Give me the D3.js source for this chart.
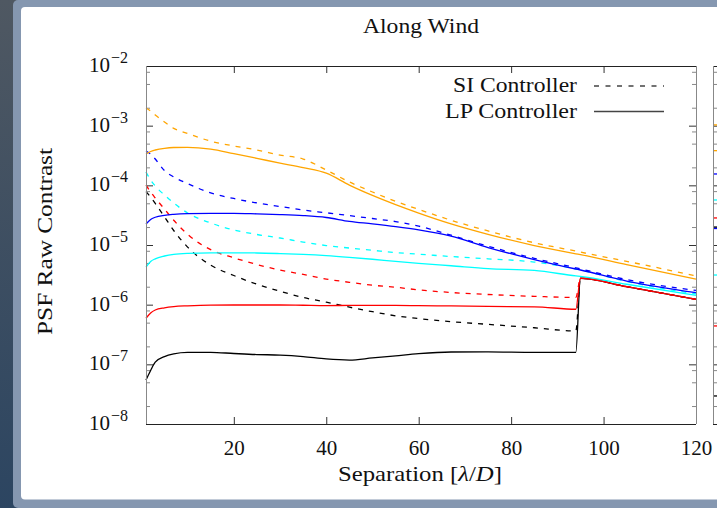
<!DOCTYPE html>
<html>
<head>
<meta charset="utf-8">
<script src="https://cdn.jsdelivr.net/npm/d3@7"></script>
<style>
html, body { margin: 0; padding: 0; background: #4b545e; }
svg { display: block; }
text { font-family: "Liberation Serif", "Times New Roman", serif; fill: #111; }
</style>
</head>
<body>
<div id="chart"></div>
<script>
// separation [lambda/D] where the curves were sampled
const separation = [1, 2, 3, 5, 7, 10, 15, 20, 25, 30, 35, 40, 45, 50, 55, 60, 67, 75, 85, 94, 95, 105, 120];

// SI controller (dashed)
const orangeSI = [1.98e-3, 1.76e-3, 1.51e-3, 1.15e-3, 9.0e-4, 7.4e-4, 5.5e-4, 4.56e-4, 3.91e-4, 3.22e-4, 2.76e-4, 1.81e-4, 1.14e-4, 7.73e-5, 5.4e-5, 3.95e-5, 2.6e-5, 1.72e-5, 1.09e-5, 7.9e-6, 7.6e-6, 5.33e-6, 3.03e-6];
const blueSI   = [3.76e-4, 3.35e-4, 2.76e-4, 1.77e-4, 1.38e-4, 1.07e-4, 7.45e-5, 6.02e-5, 5.06e-5, 4.42e-5, 3.86e-5, 3.47e-5, 3.11e-5, 2.78e-5, 2.47e-5, 2.07e-5, 1.46e-5, 9.55e-6, 5.99e-6, 4.15e-6, 3.98e-6, 2.63e-6, 1.73e-6];
const cyanSI   = [1.67e-4, 1.23e-4, 9.75e-5, 6.89e-5, 5.06e-5, 3.44e-5, 2.34e-5, 1.79e-5, 1.5e-5, 1.31e-5, 1.12e-5, 9.8e-6, 8.9e-6, 8.15e-6, 7.46e-6, 7.02e-6, 6.41e-6, 5.87e-6, 5.18e-6, 3.96e-6, 3.81e-6, 2.45e-6, 1.51e-6];
const redSI    = [1.01e-4, 7.73e-5, 6.14e-5, 4.0e-5, 2.6e-5, 1.51e-5, 8.34e-6, 6.11e-6, 4.71e-6, 3.81e-6, 3.21e-6, 2.69e-6, 2.37e-6, 2.12e-6, 1.96e-6, 1.77e-6, 1.6e-6, 1.48e-6, 1.38e-6, 1.32e-6, 2.77e-6, 2.0e-6, 1.23e-6];
const blackSI  = [7.83e-5, 6.35e-5, 4.97e-5, 2.97e-5, 1.75e-5, 9.23e-6, 4.6e-6, 3.08e-6, 2.2e-6, 1.68e-6, 1.32e-6, 1.1e-6, 9.08e-7, 7.62e-7, 6.51e-7, 5.85e-7, 5.19e-7, 4.68e-7, 4.1e-7, 3.62e-7, 2.77e-6, 2.0e-6, 1.23e-6];

// LP controller (solid)
const orangeLP = [3.35e-4, 3.69e-4, 3.91e-4, 4.18e-4, 4.31e-4, 4.34e-4, 4.05e-4, 3.39e-4, 2.83e-4, 2.36e-4, 1.98e-4, 1.6e-4, 1.01e-4, 6.78e-5, 4.75e-5, 3.43e-5, 2.26e-5, 1.51e-5, 9.8e-6, 7.13e-6, 6.89e-6, 4.7e-6, 2.69e-6];
const blueLP   = [2.25e-5, 2.68e-5, 2.92e-5, 3.15e-5, 3.27e-5, 3.36e-5, 3.4e-5, 3.4e-5, 3.33e-5, 3.24e-5, 3.11e-5, 2.89e-5, 2.49e-5, 2.26e-5, 2.03e-5, 1.79e-5, 1.41e-5, 9.08e-6, 5.71e-6, 3.96e-6, 3.81e-6, 2.49e-6, 1.59e-6];
const cyanLP   = [4.27e-6, 5.3e-6, 5.87e-6, 6.54e-6, 6.98e-6, 7.26e-6, 7.4e-6, 7.4e-6, 7.35e-6, 7.18e-6, 6.96e-6, 6.64e-6, 6.22e-6, 5.77e-6, 5.3e-6, 4.92e-6, 4.49e-6, 4.03e-6, 3.75e-6, 3.03e-6, 2.97e-6, 2.2e-6, 1.43e-6];
const redLP    = [5.92e-7, 7.26e-7, 8.15e-7, 8.87e-7, 9.29e-7, 9.57e-7, 9.84e-7, 9.88e-7, 9.88e-7, 9.88e-7, 9.77e-7, 9.66e-7, 9.7e-7, 9.72e-7, 9.7e-7, 9.62e-7, 9.51e-7, 9.33e-7, 9.21e-7, 8.38e-7, 2.77e-6, 2.0e-6, 1.23e-6];
const blackLP  = [5.47e-8, 7.9e-8, 1.09e-7, 1.35e-7, 1.5e-7, 1.59e-7, 1.59e-7, 1.52e-7, 1.46e-7, 1.43e-7, 1.35e-7, 1.23e-7, 1.18e-7, 1.28e-7, 1.39e-7, 1.51e-7, 1.61e-7, 1.62e-7, 1.59e-7, 1.59e-7, 2.77e-6, 2.0e-6, 1.23e-6];

// first values of the neighbouring (cut off) panel
const nextPanelValues = [1.03e-3, 3.81e-4, 1.55e-4, 5.68e-5, 2.84e-5, 2.0e-5, 1.89e-5, 3.14e-6, 4.4e-7, 2.95e-8];
const nextPanelColors = ["orange", "orange", "blue", "cyan", "red", "black", "blue", "cyan", "red", "black"];

const xTicks = [20, 40, 60, 80, 100, 120];
const yDecades = [1e-8, 1e-7, 1e-6, 1e-5, 1e-4, 1e-3, 1e-2];
const yExponents = ["−8", "−7", "−6", "−5", "−4", "−3", "−2"];
const minorMult = [2, 5, 8];

const W = 717, H = 508;
var margin = {top: 66, left: 146},
    width = 550,
    height = 358;

var svg = d3.select("#chart").append("svg")
    .attr("width", W)
    .attr("height", H);

// window background
var grad = svg.append("defs").append("linearGradient")
    .attr("id", "side").attr("x1", 0).attr("y1", 0).attr("x2", 0).attr("y2", 1);
grad.append("stop").attr("offset", "0%").attr("stop-color", "#4f5862");
grad.append("stop").attr("offset", "100%").attr("stop-color", "#2c4561");
svg.append("rect").attr("width", W).attr("height", H).attr("fill", "url(#side)");
svg.append("rect").attr("x", 13).attr("y", 0).attr("width", W).attr("height", H)
    .attr("rx", 5).attr("fill", "#8597b0");
svg.append("rect").attr("x", 21).attr("y", 7).attr("width", W).attr("height", 492.5)
    .attr("rx", 4).attr("fill", "#ffffff");

var g = svg.append("g")
    .attr("transform", "translate(" + margin.left + "," + margin.top + ")");

var x = d3.scaleLinear().domain([1, 120]).range([0, width]);
var y = d3.scaleLog().domain([1e-8, 1e-2]).range([height, 0]);

var minorVals = [];
yDecades.slice(0, -1).forEach(function(d) {
    minorMult.forEach(function(m) { minorVals.push(d * m); });
});

function styleAxis(sel, col) {
    sel.select(".domain").remove();
    sel.selectAll(".tick line").attr("stroke", col);
}

// y ticks, left and right, pointing inwards
g.append("g").call(d3.axisLeft(y).tickValues(yDecades).tickSize(-7).tickFormat(""))
    .call(styleAxis, "#333");
g.append("g").call(d3.axisLeft(y).tickValues(minorVals).tickSize(-4).tickFormat(""))
    .call(styleAxis, "#888");
g.append("g").attr("transform", "translate(" + width + ",0)")
    .call(d3.axisRight(y).tickValues(yDecades).tickSize(-7).tickFormat(""))
    .call(styleAxis, "#333");
g.append("g").attr("transform", "translate(" + width + ",0)")
    .call(d3.axisRight(y).tickValues(minorVals).tickSize(-4).tickFormat(""))
    .call(styleAxis, "#888");

// x ticks, bottom with labels, top mirrored
var xAxis = g.append("g").attr("transform", "translate(0," + height + ")")
    .call(d3.axisBottom(x).tickValues(xTicks).tickSizeInner(-7).tickSizeOuter(0).tickPadding(16));
xAxis.call(styleAxis, "#333");
xAxis.selectAll(".tick text")
    .attr("font-family", "Liberation Serif")
    .attr("font-size", 21)
    .attr("fill", "#111");
g.append("g")
    .call(d3.axisTop(x).tickValues(xTicks.slice(0, -1)).tickSize(-7).tickFormat(""))
    .call(styleAxis, "#333");

// y tick labels 10^n
var yLab = g.append("g").selectAll("text")
    .data(yDecades)
    .join("text")
    .attr("x", -18)
    .attr("y", function(d) { return y(d) + 6; })
    .attr("text-anchor", "end")
    .attr("font-size", 21);
yLab.append("tspan").text("10");
yLab.append("tspan")
    .attr("dx", 1)
    .attr("dy", -9)
    .attr("font-size", 16)
    .text(function(d, i) { return yExponents[i]; });

// curves
var line = d3.line()
    .x(function(d) { return x(d[0]); })
    .y(function(d) { return y(d[1]); })
    .curve(d3.curveMonotoneX);

var series = [
    [blackSI, "#000000", true], [blackLP, "#000000", false],
    [redSI, "#ff0000", true], [redLP, "#ff0000", false],
    [cyanSI, "#00ffff", true], [cyanLP, "#00ffff", false],
    [blueSI, "#0000ff", true], [blueLP, "#0000ff", false],
    [orangeSI, "#ffa500", true], [orangeLP, "#ffa500", false]
];

series.forEach(function(s) {
    g.append("path")
        .datum(d3.zip(separation, s[0]))
        .attr("fill", "none")
        .attr("stroke", s[1])
        .attr("stroke-width", 1.3)
        .attr("stroke-dasharray", s[2] ? "5,6" : null)
        .attr("d", line);
});

// frame
g.append("line").attr("x1", 0).attr("x2", width).attr("y1", 0.5).attr("y2", 0.5)
    .attr("stroke", "#222").attr("stroke-width", 1);
g.append("line").attr("x1", 0).attr("x2", width).attr("y1", height + 0.5).attr("y2", height + 0.5)
    .attr("stroke", "#222").attr("stroke-width", 1);
g.append("line").attr("x1", 0.5).attr("x2", 0.5).attr("y1", 0).attr("y2", height)
    .attr("stroke", "#888").attr("stroke-width", 1);
g.append("line").attr("x1", width + 0.5).attr("x2", width + 0.5).attr("y1", 0).attr("y2", height)
    .attr("stroke", "#888").attr("stroke-width", 1);

// legend
var legend = svg.append("g");
legend.append("text").attr("x", 577).attr("y", 92).attr("text-anchor", "end")
    .attr("font-size", 22).attr("textLength", 124).attr("lengthAdjust", "spacingAndGlyphs")
    .text("SI Controller");
legend.append("text").attr("x", 577).attr("y", 118).attr("text-anchor", "end")
    .attr("font-size", 22).attr("textLength", 132).attr("lengthAdjust", "spacingAndGlyphs")
    .text("LP Controller");
legend.append("line").attr("x1", 594).attr("x2", 664).attr("y1", 86).attr("y2", 86)
    .attr("stroke", "#444").attr("stroke-width", 1.3).attr("stroke-dasharray", "5,6.5");
legend.append("line").attr("x1", 594).attr("x2", 664).attr("y1", 111.5).attr("y2", 111.5)
    .attr("stroke", "#444").attr("stroke-width", 1.3);

// titles
svg.append("text").attr("x", 421).attr("y", 33).attr("text-anchor", "middle")
    .attr("font-size", 22).attr("textLength", 116).attr("lengthAdjust", "spacingAndGlyphs")
    .text("Along Wind");

var xl = svg.append("text").attr("x", 420).attr("y", 481).attr("text-anchor", "middle")
    .attr("font-size", 22).attr("textLength", 164).attr("lengthAdjust", "spacingAndGlyphs");
xl.append("tspan").text("Separation [");
xl.append("tspan").attr("font-style", "italic").text("λ");
xl.append("tspan").text("/");
xl.append("tspan").attr("font-style", "italic").text("D");
xl.append("tspan").text("]");

svg.append("text")
    .attr("transform", "translate(52,241.5) rotate(-90)")
    .attr("text-anchor", "middle")
    .attr("font-size", 22).attr("textLength", 187).attr("lengthAdjust", "spacingAndGlyphs")
    .text("PSF Raw Contrast");

// neighbouring panel, cut off at the window edge
var g2 = svg.append("g").attr("transform", "translate(713," + margin.top + ")");
var x2 = d3.scaleLinear().domain([1, 120]).range([0, width]);
g2.append("g").call(d3.axisLeft(y).tickValues(yDecades).tickSize(-7).tickFormat(""))
    .call(styleAxis, "#333");
g2.append("g").call(d3.axisLeft(y).tickValues(minorVals).tickSize(-4).tickFormat(""))
    .call(styleAxis, "#888");
g2.selectAll(".stub")
    .data(nextPanelValues)
    .join("line")
    .attr("x1", x2(1)).attr("x2", x2(3))
    .attr("y1", function(d) { return y(d); })
    .attr("y2", function(d) { return y(d); })
    .attr("stroke", function(d, i) { return nextPanelColors[i]; })
    .attr("stroke-width", 1.3);
g2.append("line").attr("x1", 0).attr("x2", 20).attr("y1", 0.5).attr("y2", 0.5)
    .attr("stroke", "#222");
g2.append("line").attr("x1", 0).attr("x2", 20).attr("y1", height + 0.5).attr("y2", height + 0.5)
    .attr("stroke", "#222");
g2.append("line").attr("x1", 0.5).attr("x2", 0.5).attr("y1", 0).attr("y2", height)
    .attr("stroke", "#888");
</script>
</body>
</html>
